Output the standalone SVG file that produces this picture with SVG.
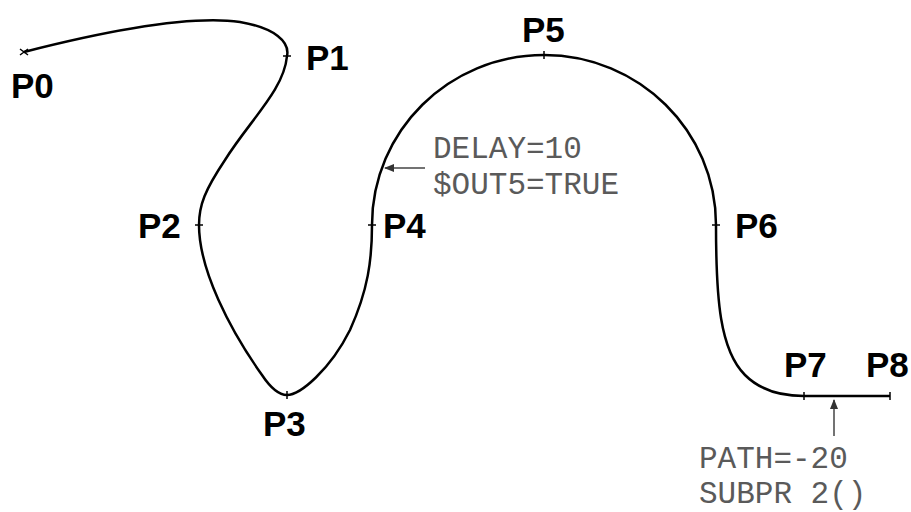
<svg xmlns="http://www.w3.org/2000/svg" width="911" height="512" viewBox="0 0 911 512">
<defs>
<marker id="ah" markerWidth="10" markerHeight="8" refX="9" refY="4" orient="auto" markerUnits="userSpaceOnUse">
<path d="M0,0 L10,4 L0,8 Z" fill="#333"/>
</marker>
</defs>
<style>
.lbl{font-family:"Liberation Sans",Arial,sans-serif;font-weight:bold;font-size:35px;fill:#000}
.ann{font-family:"Liberation Mono","Courier New",monospace;font-size:31px;fill:#5a5a5a}
.curve{fill:none;stroke:#000;stroke-width:2.5}
.tick{stroke:#000;stroke-width:1.5}
.arr{stroke:#444;stroke-width:1.5;fill:none}
</style>
<rect width="911" height="512" fill="#fff"/>
<g id="connectors">
<path class="curve" d="M24,52 C110,30 190,15 240,22 C275,28 290,42 287,56 C284,90 250,120 225,160 C205,190 199,205 199,225 C199,270 230,330 262,375 C272,390 280,395 287,395 C300,395 330,370 350,330 C368,290 372,260 372,225 C372,131 449,55 544,55 C639,55 716,131 716,225 C716,300 720,350 745,375 C760,390 780,396 804,396 L890,396"/>
<path class="arr" d="M425,168 L385,168" marker-end="url(#ah)"/>
<path class="arr" d="M834,436 L834,400" marker-end="url(#ah)"/>
</g>
<g id="P0"><path class="tick" d="M20,49 L28,55 M20,55 L28,49"/><text class="lbl" x="11" y="98">P0</text></g>
<g id="P1"><path class="tick" d="M283,56 L291,56"/><text class="lbl" x="306" y="70">P1</text></g>
<g id="P2"><path class="tick" d="M195,225 L203,225"/><text class="lbl" x="138" y="238">P2</text></g>
<g id="P3"><path class="tick" d="M287,391 L287,399"/><text class="lbl" x="263" y="436">P3</text></g>
<g id="P4"><path class="tick" d="M368,225 L376,225"/><text class="lbl" x="383" y="238">P4</text></g>
<g id="P5"><path class="tick" d="M544,51 L544,59"/><text class="lbl" x="522" y="42">P5</text></g>
<g id="P6"><path class="tick" d="M712,225 L720,225"/><text class="lbl" x="735" y="238">P6</text></g>
<g id="P7"><path class="tick" d="M804,392 L804,400"/><text class="lbl" x="784" y="377">P7</text></g>
<g id="P8"><path class="tick" d="M890,392 L890,400"/><text class="lbl" x="866" y="377">P8</text></g>
<g id="note1"><text class="ann" x="433" y="158">DELAY=10</text><text class="ann" x="433" y="194">$OUT5=TRUE</text></g>
<g id="note2"><text class="ann" x="699" y="468">PATH=-20</text><text class="ann" x="699" y="503">SUBPR 2()</text></g>
</svg>
